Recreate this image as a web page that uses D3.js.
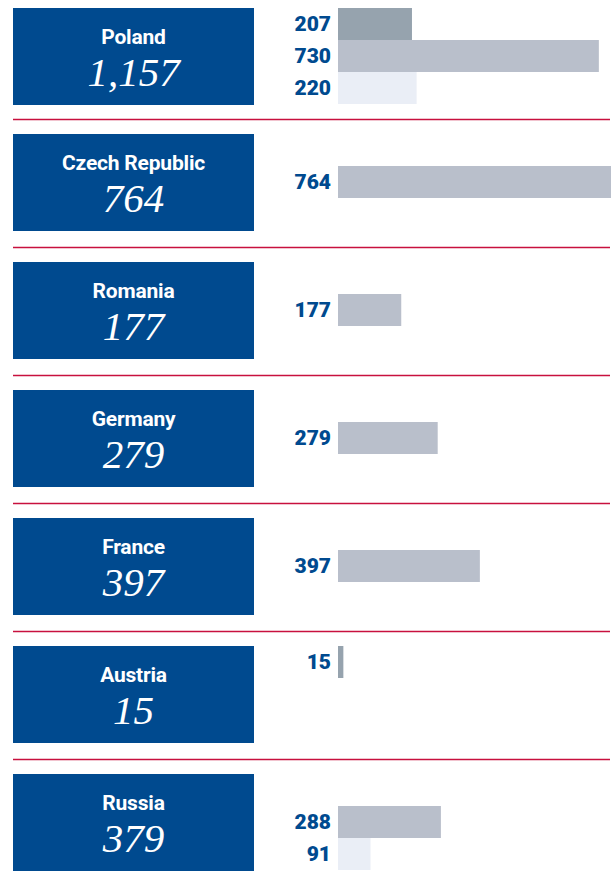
<!DOCTYPE html>
<html>
<head>
<meta charset="utf-8">
<script src="https://cdn.jsdelivr.net/npm/d3@7"></script>
<style>
  body { margin: 0; background: #fff; }
</style>
</head>
<body>
<div id="container"></div>
<script>
const countries = ["Poland", "Czech Republic", "Romania", "Germany", "France", "Austria", "Russia"];
const totals = ["1,157", "764", "177", "279", "397", "15", "379"];
// three slots per country (top, middle, bottom); null = no bar
const seriesTop = [207, null, null, null, null, 15, null];
const seriesMid = [730, 764, 177, 279, 397, null, 288];
const seriesBot = [220, null, null, null, null, null, 91];

const WIDTH = 616, HEIGHT = 876;
const BLUE = "#004a8f", RED = "#c8103e";
const slotColors = ["#96a3ae", "#b9bfcb", "#eaeef6"];

const svg = d3.select("#container").append("svg")
    .attr("width", WIDTH).attr("height", HEIGHT);

const yScale = d3.scaleBand()
    .domain(countries)
    .range([6, 6 + 128 * countries.length]);

const boxH = 97, slotH = 32;

const xScale = d3.scaleLinear()
    .domain([0, 764])
    .range([338, 611]);

// separators
svg.selectAll("line.sep")
    .data(countries.slice(1))
    .join("line")
    .attr("class", "sep")
    .attr("x1", 13).attr("x2", 610)
    .attr("y1", d => yScale(d) - 14.5)
    .attr("y2", d => yScale(d) - 14.5)
    .attr("stroke", RED)
    .attr("stroke-width", 1.5);

const rows = svg.selectAll("g.row")
    .data(countries)
    .join("g")
    .attr("class", "row")
    .attr("transform", d => `translate(0, ${yScale(d)})`);

rows.append("rect")
    .attr("x", 13).attr("width", 241)
    .attr("y", (d, i) => i === 0 ? 2 : 0)
    .attr("height", boxH)
    .attr("fill", BLUE);

rows.append("text")
    .attr("x", 133.5).attr("y", (d, i) => (i === 0 ? 2 : 0) + 36)
    .attr("text-anchor", "middle")
    .attr("fill", "#fff")
    .style("font-family", "Roboto, 'Liberation Sans', sans-serif")
    .style("font-weight", 700)
    .style("font-size", "21px")
    .style("letter-spacing", "-0.2px")
    .text(d => d);

rows.append("text")
    .attr("x", 133.5).attr("y", (d, i) => (i === 0 ? 2 : 0) + 78)
    .attr("text-anchor", "middle")
    .attr("fill", "#fff")
    .style("font-family", "'Liberation Serif', 'DejaVu Serif', serif")
    .style("font-style", "italic")
    .style("font-size", "41px")
    .text((d, i) => totals[i]);

const slots = [seriesTop, seriesMid, seriesBot];
const barData = [];
countries.forEach((c, i) => {
    slots.forEach((s, k) => {
        if (s[i] !== null) barData.push({ country: c, slot: k, value: s[i], first: i === 0 });
    });
});

const barY = d => yScale(d.country) + (d.first ? 2 : 0) + d.slot * slotH;

svg.selectAll("rect.bar")
    .data(barData)
    .join("rect")
    .attr("class", "bar")
    .attr("x", xScale(0))
    .attr("y", barY)
    .attr("width", d => Math.max(xScale(d.value) - xScale(0), 5))
    .attr("height", slotH)
    .attr("fill", d => slotColors[d.slot]);

svg.selectAll("text.val")
    .data(barData)
    .join("text")
    .attr("class", "val")
    .attr("x", xScale(0) - 7)
    .attr("y", d => barY(d) + slotH / 2 + 7)
    .attr("text-anchor", "end")
    .attr("fill", BLUE)
    .style("font-family", "Roboto, 'Liberation Sans', sans-serif")
    .style("font-weight", 900)
    .style("font-size", "21px")
    .text(d => d.value);
</script>
</body>
</html>
